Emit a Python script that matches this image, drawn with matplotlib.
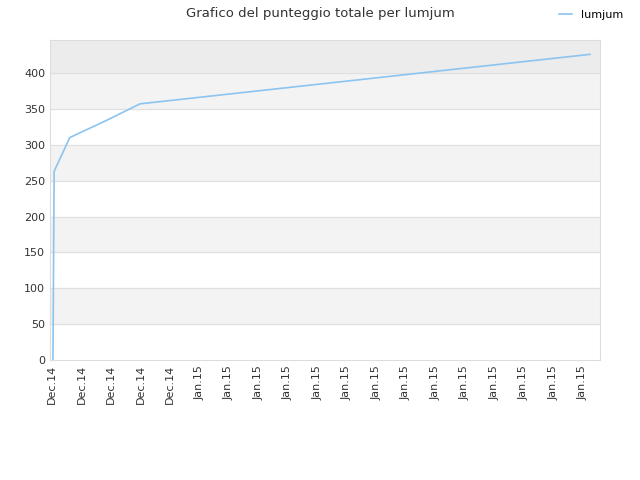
import matplotlib.pyplot as plt

# positions along x in tick units (one unit per tick label)
x_vals = [0.03, 0.07, 0.6, 1.9, 2.98, 18.24]
scores = [0, 263, 310, 335, 357, 426]
tick_labels = ["Dec.14"] * 5 + ["Jan.15"] * 14

fig = plt.figure(figsize=(6.4, 4.8), dpi=100)
ax = fig.add_axes([50 / 640, 1 - 360 / 480, 550 / 640, 320 / 480])

# alternating bands
for lo in range(50, 400, 100):
    ax.axhspan(lo, lo + 50, color="#f3f3f3", zorder=0)
ax.axhspan(400, 446, color="#ececec", zorder=0)
for y in range(50, 450, 50):
    ax.axhline(y, color="#e0e0e0", lw=0.8, zorder=1)

ax.plot(x_vals, scores, color="#8cc4f0", lw=1.2, label="lumjum", zorder=3)

ax.set_xlim(-0.07, 18.58)
ax.set_ylim(0, 446)
ax.set_yticks(range(0, 401, 50))
ax.set_xticks(range(len(tick_labels)))
ax.set_xticklabels(tick_labels, rotation=90)
ax.tick_params(labelsize=8, colors="#333333", length=0)
for s in ax.spines.values():
    s.set_color("#dddddd")

fig.suptitle("Grafico del punteggio totale per lumjum", y=0.985, fontsize=9.5, color="#333333")
fig.legend(loc="upper right", bbox_to_anchor=(0.99, 1.0), frameon=False, fontsize=8,
           handlelength=1.2)

fig.savefig("out.png", dpi=100)
